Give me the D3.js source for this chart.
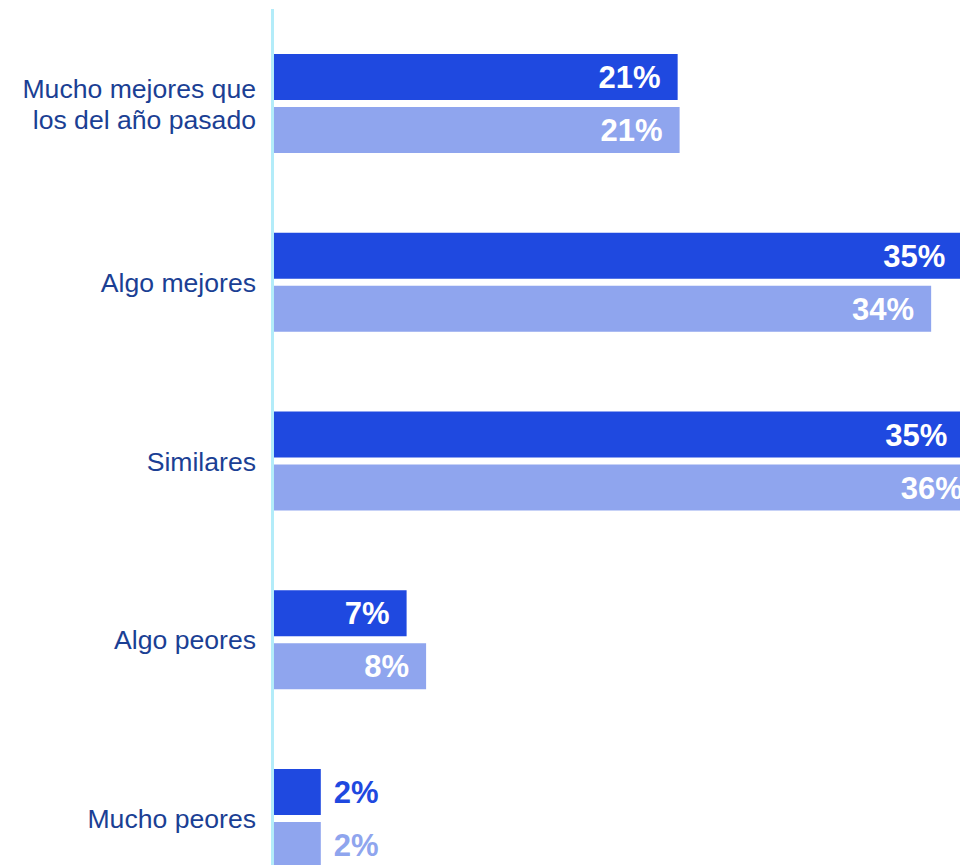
<!DOCTYPE html>
<html>
<head>
<meta charset="utf-8">
<script src="https://cdn.jsdelivr.net/npm/d3@7"></script>
<style>
  html, body { margin: 0; padding: 0; background: #ffffff; }
  svg { display: block; }
</style>
</head>
<body>
<svg id="chart" width="960" height="865"></svg>
<script>
// ---- data ----
const categories = [
  "Mucho mejores que\nlos del año pasado",
  "Algo mejores",
  "Similares",
  "Algo peores",
  "Mucho peores"
];
const seriesKeys = ["actual", "anterior"];
const actualValues   = [20.7, 35.3, 35.4, 6.8, 2.4];
const anteriorValues = [20.8, 33.7, 36.2, 7.8, 2.4];

// ---- setup ----
const W = 960, H = 865;
const colors = { actual: "#1f49e0", anterior: "#8fa5ee" };
const textColor = "#1b3f94";
const axisColor = "#b3ecf9";

const svg = d3.select("#chart");

const x = d3.scaleLinear().domain([0, 40]).range([274, 274 + 19.5 * 40]);

const y = d3.scaleBand()
  .domain(categories)
  .range([54, 868])
  .paddingInner(0.4462)
  .paddingOuter(0);

const ySub = d3.scaleBand()
  .domain(seriesKeys)
  .range([0, y.bandwidth()])
  .paddingInner(7 / 53)
  .paddingOuter(0);

const rows = categories.map((c, i) => ({
  category: c,
  bars: [
    { key: "actual", value: actualValues[i] },
    { key: "anterior", value: anteriorValues[i] }
  ]
}));

const fmt = v => d3.format(".0f")(v) + "%";

// bars
const groups = svg.append("g").selectAll("g.grp")
  .data(rows).join("g")
  .attr("class", "grp")
  .attr("transform", d => `translate(0,${y(d.category)})`);

groups.selectAll("rect")
  .data(d => d.bars).join("rect")
  .attr("x", x(0))
  .attr("y", d => ySub(d.key))
  .attr("width", d => x(d.value) - x(0))
  .attr("height", ySub.bandwidth())
  .attr("fill", d => colors[d.key]);

// value labels
groups.selectAll("text.val")
  .data(d => d.bars).join("text")
  .attr("class", "val")
  .attr("x", d => d.value > 5 ? x(d.value) - 17 : x(d.value) + 13)
  .attr("y", d => ySub(d.key) + ySub.bandwidth() / 2)
  .attr("dy", "0.36em")
  .attr("text-anchor", d => d.value > 5 ? "end" : "start")
  .attr("fill", d => d.value > 5 ? "#ffffff" : colors[d.key])
  .style("font-family", "'Liberation Sans', Arial, Helvetica, sans-serif")
  .style("font-weight", "bold")
  .style("font-size", "31px")
  .text(d => fmt(d.value));

// category labels
const lineH = 31;
const catG = svg.append("g");
categories.forEach(c => {
  const lines = c.split("\n");
  const cy = y(c) + y.bandwidth() / 2;
  const t = catG.append("text")
    .attr("text-anchor", "end")
    .attr("fill", textColor)
    .style("font-family", "'Liberation Sans', Arial, Helvetica, sans-serif")
    .style("font-size", "26.6px");
  lines.forEach((ln, j) => {
    t.append("tspan")
      .attr("x", 256)
      .attr("y", cy + (j - (lines.length - 1) / 2) * lineH)
      .attr("dy", "0.36em")
      .text(ln);
  });
});

// vertical axis line
svg.append("line")
  .attr("x1", x(0) - 1.5).attr("x2", x(0) - 1.5)
  .attr("y1", 9).attr("y2", H)
  .attr("stroke", axisColor)
  .attr("stroke-width", 3);
</script>
</body>
</html>
